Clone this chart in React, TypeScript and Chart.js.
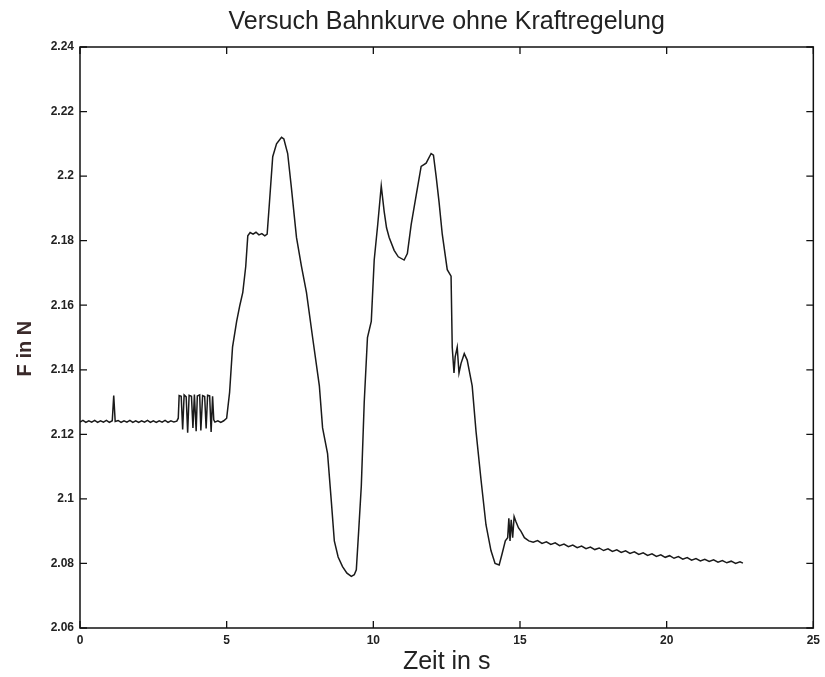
import React, { useEffect, useRef } from "react";
import { Chart, registerables } from "chart.js";

Chart.register(...registerables);

// ---- Data (time in s, force in N) ----
const baselineTime = [0, 0.1, 0.2, 0.3, 0.4, 0.5, 0.6, 0.7, 0.8, 0.9, 1.0, 1.1, 1.15, 1.2, 1.3, 1.4, 1.5, 1.6, 1.7, 1.8, 1.9, 2.0, 2.1, 2.2, 2.3, 2.4, 2.5, 2.6, 2.7, 2.8, 2.9, 3.0, 3.1, 3.2, 3.3];
const baselineForce = [2.1238, 2.1243, 2.1237, 2.1242, 2.1238, 2.1243, 2.1237, 2.1242, 2.1238, 2.1243, 2.1237, 2.1242, 2.1320, 2.1240, 2.1243, 2.1237, 2.1242, 2.1238, 2.1243, 2.1237, 2.1242, 2.1237, 2.1242, 2.1238, 2.1243, 2.1237, 2.1242, 2.1237, 2.1242, 2.1238, 2.1243, 2.1237, 2.1242, 2.1238, 2.1241];

const switchTime = [3.35, 3.38, 3.45, 3.5, 3.55, 3.62, 3.67, 3.72, 3.8, 3.85, 3.9, 3.96, 4.0, 4.08, 4.12, 4.18, 4.25, 4.3, 4.35, 4.42, 4.47, 4.52, 4.56, 4.6, 4.7, 4.8, 4.9, 5.0];
const switchForce = [2.1250, 2.1320, 2.1318, 2.1215, 2.1322, 2.1316, 2.1205, 2.1321, 2.1318, 2.1220, 2.1323, 2.1210, 2.1319, 2.1322, 2.1212, 2.1320, 2.1317, 2.1218, 2.1321, 2.1319, 2.1207, 2.1318, 2.1245, 2.1238, 2.1242, 2.1237, 2.1242, 2.1250];

const motionTime = [5.1, 5.2, 5.34, 5.45, 5.55, 5.65, 5.72, 5.8, 5.9, 6.0, 6.1, 6.2, 6.3, 6.38, 6.46, 6.57, 6.7, 6.87, 6.95, 7.08, 7.2, 7.38, 7.55, 7.72, 7.93, 8.16, 8.27, 8.44, 8.57, 8.67, 8.8, 8.95, 9.1, 9.25, 9.35, 9.42, 9.5, 9.59, 9.69, 9.8, 9.93, 10.03, 10.15, 10.27, 10.37, 10.45, 10.54, 10.71, 10.85, 11.05, 11.16, 11.29, 11.46, 11.63, 11.8, 11.97, 12.05, 12.14, 12.24, 12.35, 12.52, 12.65, 12.69, 12.75, 12.79, 12.86, 12.92, 12.99, 13.1, 13.2, 13.37, 13.5, 13.67, 13.84, 14.01, 14.15, 14.29, 14.39, 14.5, 14.58, 14.62, 14.66, 14.7, 14.75, 14.8, 14.86, 14.95, 15.03, 15.15, 15.3];
const motionForce = [2.1330, 2.1470, 2.1550, 2.1600, 2.1640, 2.1720, 2.1815, 2.1825, 2.1820, 2.1826, 2.1818, 2.1822, 2.1815, 2.1820, 2.1920, 2.2060, 2.2100, 2.2120, 2.2115, 2.2070, 2.1970, 2.1810, 2.1720, 2.1640, 2.1500, 2.1350, 2.1220, 2.1140, 2.0990, 2.0870, 2.0820, 2.0790, 2.0770, 2.0760, 2.0765, 2.0780, 2.0900, 2.1040, 2.1300, 2.1500, 2.1550, 2.1740, 2.1850, 2.1970, 2.1890, 2.1840, 2.1810, 2.1770, 2.1750, 2.1740, 2.1760, 2.1850, 2.1940, 2.2030, 2.2040, 2.2070, 2.2065, 2.2000, 2.1920, 2.1820, 2.1710, 2.1690, 2.1470, 2.1390, 2.1440, 2.1470, 2.1390, 2.1420, 2.1450, 2.1430, 2.1350, 2.1210, 2.1060, 2.0920, 2.0840, 2.0800, 2.0795, 2.0830, 2.0870, 2.0880, 2.0940, 2.0870, 2.0935, 2.0880, 2.0945, 2.0930, 2.0910, 2.0900, 2.0880, 2.0870];

const tailTime = [15.45, 15.6, 15.75, 15.9, 16.05, 16.2, 16.35, 16.5, 16.65, 16.8, 16.95, 17.1, 17.25, 17.4, 17.55, 17.7, 17.85, 18.0, 18.15, 18.3, 18.45, 18.6, 18.75, 18.9, 19.05, 19.2, 19.35, 19.5, 19.65, 19.8, 19.95, 20.1, 20.25, 20.4, 20.55, 20.7, 20.85, 21.0, 21.15, 21.3, 21.45, 21.6, 21.75, 21.9, 22.05, 22.2, 22.35, 22.5, 22.6];
const tailForce = [2.0866, 2.0871, 2.0862, 2.0867, 2.0859, 2.0864, 2.0855, 2.0860, 2.0852, 2.0857, 2.0849, 2.0854, 2.0846, 2.0851, 2.0843, 2.0848, 2.0840, 2.0845, 2.0837, 2.0842, 2.0834, 2.0839, 2.0831, 2.0836, 2.0828, 2.0833, 2.0825, 2.0830, 2.0822, 2.0827, 2.0819, 2.0824, 2.0816, 2.0821, 2.0813, 2.0818, 2.0810, 2.0815, 2.0808, 2.0813, 2.0806, 2.0811, 2.0804, 2.0809, 2.0802, 2.0807, 2.0800, 2.0805, 2.0801];

const xTicks = [0, 5, 10, 15, 20, 25];
const yTickLabels = ["2.06", "2.08", "2.1", "2.12", "2.14", "2.16", "2.18", "2.2", "2.22", "2.24"];

const titleText = "Versuch Bahnkurve ohne Kraftregelung";
const xTitle = "Zeit in s";
const yTitle = "F in N    ";

const allTime = [...baselineTime, ...switchTime, ...motionTime, ...tailTime];
const allForce = [...baselineForce, ...switchForce, ...motionForce, ...tailForce];

const boxPlugin = {
  id: "matlabBox",
  afterDatasetsDraw(chart: any) {
    const { ctx, chartArea, scales } = chart;
    const { left, right, top, bottom } = chartArea;
    const len = 7;
    ctx.save();
    ctx.strokeStyle = "#111";
    ctx.lineWidth = 1.5;
    ctx.strokeRect(left, top, right - left, bottom - top);
    ctx.lineWidth = 1.3;
    ctx.beginPath();
    scales.x.ticks.forEach((t: any) => {
      const px = scales.x.getPixelForValue(t.value);
      ctx.moveTo(px, bottom);
      ctx.lineTo(px, bottom - len);
      ctx.moveTo(px, top);
      ctx.lineTo(px, top + len);
    });
    scales.y.ticks.forEach((t: any) => {
      const py = scales.y.getPixelForValue(t.value);
      ctx.moveTo(left, py);
      ctx.lineTo(left + len, py);
      ctx.moveTo(right, py);
      ctx.lineTo(right - len, py);
    });
    ctx.stroke();
    ctx.restore();
  },
};

export default function App() {
  const canvasRef = useRef<HTMLCanvasElement | null>(null);

  useEffect(() => {
    document.body.style.margin = "0";
    const canvas = canvasRef.current;
    if (!canvas) return;
    const points = allTime.map((t, i) => ({ x: t, y: allForce[i] }));
    const tickFont = { family: "'Liberation Sans Narrow', 'Liberation Sans', Arial, sans-serif", size: 12, weight: "bold" as const };
    const chart = new Chart(canvas, {
      type: "line",
      data: {
        datasets: [
          {
            data: points,
            borderColor: "#1a1a1a",
            borderWidth: 1.5,
            pointRadius: 0,
            tension: 0,
            fill: false,
          },
        ],
      },
      options: {
        animation: false,
        responsive: false,
        devicePixelRatio: 1,
        layout: { padding: { left: 0, right: 10, top: 0, bottom: 0 } },
        plugins: {
          legend: { display: false },
          tooltip: { enabled: false },
          title: {
            display: true,
            text: titleText,
            fullSize: false,
            color: "#222",
            font: { family: "'Liberation Sans', Arial, sans-serif", size: 25, weight: "normal" },
            padding: { top: 7, bottom: 10 },
          },
        },
        scales: {
          x: {
            type: "linear",
            min: 0,
            max: 25,
            afterBuildTicks: (scale: any) => {
              scale.ticks = xTicks.map((v) => ({ value: v }));
            },
            afterFit: (scale: any) => {
              scale.height = 49;
            },
            grid: { display: false, drawTicks: false },
            border: { display: false },
            ticks: { color: "#222", font: tickFont, padding: 5, maxRotation: 0, autoSkip: false },
            title: {
              display: true,
              text: xTitle,
              color: "#222",
              font: { family: "'Liberation Sans', Arial, sans-serif", size: 25, weight: "normal" },
              padding: { top: 1, bottom: 0 },
            },
          },
          y: {
            type: "linear",
            min: 2.06,
            max: 2.24,
            afterBuildTicks: (scale: any) => {
              scale.ticks = yTickLabels.map((s) => ({ value: parseFloat(s) }));
            },
            afterFit: (scale: any) => {
              scale.width = 80;
            },
            grid: { display: false, drawTicks: false },
            border: { display: false },
            ticks: {
              color: "#222",
              font: tickFont,
              padding: 6,
              autoSkip: false,
              callback: (v: any) => {
                const idx = yTickLabels.findIndex((s) => Math.abs(parseFloat(s) - v) < 1e-6);
                return idx >= 0 ? yTickLabels[idx] : "";
              },
            },
            title: {
              display: true,
              text: yTitle,
              color: "#3a2a2a",
              font: { family: "'Liberation Sans', Arial, sans-serif", size: 20, weight: "bold" },
              padding: { top: 13, bottom: 0 },
            },
          },
        },
      },
      plugins: [boxPlugin],
    });
    return () => chart.destroy();
  }, []);

  return (
    <div style={{ position: "absolute", left: 0, top: 0, width: 825, height: 677, background: "#fff" }}>
      <canvas ref={canvasRef} width={825} height={677} />
    </div>
  );
}
